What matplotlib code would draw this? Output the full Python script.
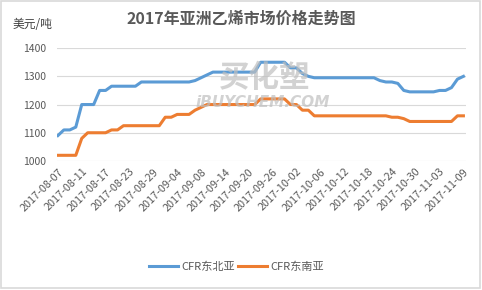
import matplotlib
matplotlib.use('Agg')
import matplotlib.pyplot as plt
import pandas as pd
from matplotlib.patches import Rectangle

plt.rcParams['font.family'] = ['Noto Sans CJK SC', 'DejaVu Sans']

title = '2017年亚洲乙烯市场价格走势图'
unit = '美元/吨'
series_names = ['CFR东北亚', 'CFR东南亚']

# trading days, one label every 4th day
dates = pd.bdate_range('2017-08-07', '2017-11-09')
date_labels = [d.strftime('%Y-%m-%d') for d in dates]

cfr_ne_asia = [1090, 1110, 1110, 1120, 1200, 1200, 1200, 1250, 1250, 1265,
               1265, 1265, 1265, 1265, 1280, 1280, 1280, 1280, 1280, 1280,
               1280, 1280, 1280, 1285, 1295, 1305, 1315, 1315, 1315, 1315,
               1315, 1315, 1315, 1315, 1350, 1350, 1350, 1350, 1350, 1330,
               1330, 1310, 1300, 1295, 1295, 1295, 1295, 1295, 1295, 1295,
               1295, 1295, 1295, 1295, 1285, 1280, 1280, 1275, 1250, 1245,
               1245, 1245, 1245, 1245, 1250, 1250, 1260, 1290, 1300]
cfr_se_asia = [1020, 1020, 1020, 1020, 1080, 1100, 1100, 1100, 1100, 1110,
               1110, 1125, 1125, 1125, 1125, 1125, 1125, 1125, 1155, 1155,
               1165, 1165, 1165, 1180, 1190, 1200, 1200, 1200, 1200, 1200,
               1200, 1200, 1200, 1200, 1220, 1220, 1220, 1220, 1220, 1200,
               1200, 1180, 1180, 1160, 1160, 1160, 1160, 1160, 1160, 1160,
               1160, 1160, 1160, 1160, 1160, 1160, 1155, 1155, 1150, 1140,
               1140, 1140, 1140, 1140, 1140, 1140, 1140, 1160, 1160]

fig = plt.figure(figsize=(4.82, 2.90), dpi=100)
ax = fig.add_axes([0.118, 0.445, 0.849, 0.389])

x = range(len(date_labels))
ax.plot(x, cfr_ne_asia, color='#5B9BD5', lw=2.2, label=series_names[0], zorder=3)
ax.plot(x, cfr_se_asia, color='#ED7D31', lw=2.2, label=series_names[1], zorder=3)

ax.set_xlim(-0.17, len(date_labels) - 1 + 0.45)
ax.set_ylim(1000, 1400)
ax.set_yticks([1000, 1100, 1200, 1300, 1400])
ax.grid(axis='y', color='#d9d9d9', lw=0.8)
ax.set_axisbelow(True)
for s in ax.spines.values():
    s.set_visible(False)
ax.tick_params(axis='both', length=0, colors='#595959', labelsize=7.5)
ax.tick_params(axis='y', pad=8)
ax.tick_params(axis='x', pad=4)

ticks = list(range(0, len(date_labels), 4))
ax.set_xticks(ticks)
ax.set_xticklabels([date_labels[i] for i in ticks], rotation=45, ha='right',
                   rotation_mode='anchor', fontsize=7.8)

# watermark
fig.text(0.55, 0.73, '买化塑', fontsize=22, fontweight='bold', style='italic',
         color='#bfbfbf', alpha=0.7, ha='center', va='center', zorder=1)
fig.text(0.545, 0.645, 'iBUYCHEM.COM', fontsize=11, fontweight='bold', style='italic',
         color='#bfbfbf', alpha=0.7, ha='center', va='center', zorder=1,
         family='DejaVu Sans')

fig.text(0.5, 0.935, title, fontsize=11.5, fontweight='bold', color='#595959',
         ha='center', va='center')
fig.text(0.027, 0.915, unit, fontsize=8.5, color='#404040', ha='left', va='center')

fig.legend(loc='center', bbox_to_anchor=(0.49, 0.08), ncol=2, frameon=False,
           fontsize=8, handlelength=2.6, columnspacing=0.3, handletextpad=0.3,
           labelcolor='#595959')

fig.patches.append(Rectangle((0.002, 0.007), 0.994, 0.99, transform=fig.transFigure,
                             fill=False, edgecolor='#d9d9d9', lw=1.2))

fig.savefig('out.png', dpi=100)
